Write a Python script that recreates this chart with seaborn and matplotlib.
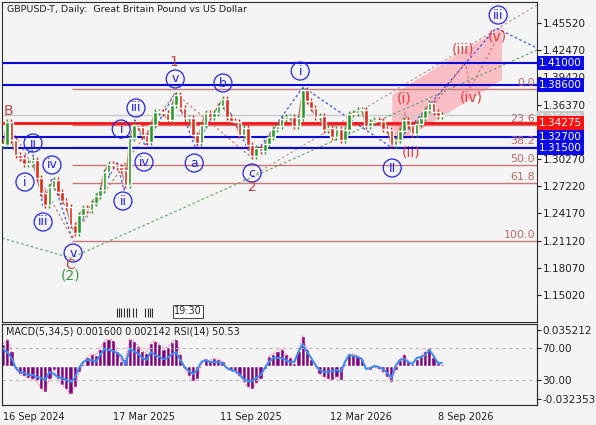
import matplotlib
matplotlib.use("Agg")
import matplotlib.pyplot as plt
import matplotlib.transforms as mtransforms
from matplotlib.patches import Polygon
import seaborn as sns
import pandas as pd
import numpy as np

sns.set_style("white")
plt.rcParams["font.family"] = ["DejaVu Sans"]

# weekly closes, GBPUSD, starting 16 Sep 2024
closes = [1.3184, 1.3442, 1.3240, 1.3072, 1.3038, 1.2971, 1.2982, 1.3016, 1.2814, 1.2646,
          1.2511, 1.2713, 1.2792, 1.2657, 1.2556, 1.2489, 1.2287, 1.2197, 1.2399, 1.2478,
          1.2455, 1.2534, 1.2612, 1.2680, 1.2881, 1.2971, 1.2960, 1.2937, 1.2904, 1.2736,
          1.3262, 1.3408, 1.3386, 1.3296, 1.3218, 1.3408, 1.3554, 1.3554, 1.3543, 1.3464,
          1.3632, 1.3745, 1.3599, 1.3487, 1.3487, 1.3296, 1.3206, 1.3408, 1.3543, 1.3498,
          1.3543, 1.3621, 1.3700, 1.3498, 1.3453, 1.3442, 1.3296, 1.3375, 1.3184, 1.3061,
          1.3150, 1.3117, 1.3195, 1.3274, 1.3364, 1.3397, 1.3475, 1.3498, 1.3498, 1.3397,
          1.3487, 1.3800, 1.3677, 1.3599, 1.3498, 1.3509, 1.3352, 1.3375, 1.3274, 1.3364,
          1.3240, 1.3352, 1.3531, 1.3543, 1.3576, 1.3576, 1.3397, 1.3442, 1.3464, 1.3453,
          1.3364, 1.3352, 1.3184, 1.3240, 1.3341, 1.3464, 1.3408, 1.3307, 1.3420, 1.3487,
          1.3576, 1.3655, 1.3554, 1.3509, 1.3520]

macd_hist = [0.0215, 0.0264, 0.0147, -0.0029, -0.0078, -0.0098, -0.0117, -0.0127, -0.0147, -0.0225,
             -0.0255, -0.0127, -0.0039, -0.0127, -0.0186, -0.0225, -0.0274, -0.0206, -0.0059, 0.0020,
             0.0088, 0.0117, 0.0108, 0.0166, 0.0245, 0.0264, 0.0255, 0.0147, 0.0049, 0.0069,
             0.0264, 0.0245, 0.0196, 0.0147, 0.0127, 0.0225, 0.0245, 0.0215, 0.0166, 0.0186,
             0.0235, 0.0264, 0.0117, -0.0020, -0.0098, -0.0147, -0.0127, 0.0010, 0.0069, 0.0049,
             0.0078, 0.0069, 0.0049, -0.0020, -0.0049, -0.0059, -0.0098, -0.0157, -0.0206, -0.0225,
             -0.0166, -0.0127, -0.0029, 0.0098, 0.0117, 0.0147, 0.0166, 0.0117, 0.0088, 0.0029,
             0.0147, 0.0294, 0.0166, 0.0069, 0.0000, -0.0078, -0.0108, -0.0127, -0.0137, -0.0108,
             -0.0137, 0.0020, 0.0117, 0.0117, 0.0098, 0.0069, -0.0010, -0.0039, -0.0010, -0.0029,
             -0.0059, -0.0108, -0.0157, -0.0039, 0.0059, 0.0117, 0.0049, 0.0020, 0.0069, 0.0098,
             0.0147, 0.0176, 0.0088, 0.0029, 0.0020]

rsi = [67.5, 65.0, 57.5, 45.0, 40.0, 38.8, 36.3, 36.3, 33.8, 32.5,
       30.0, 40.0, 37.5, 33.8, 32.5, 30.0, 27.5, 32.5, 45.0, 52.5,
       55.0, 55.0, 52.5, 61.3, 68.8, 67.5, 66.3, 63.8, 60.0, 48.8,
       68.8, 66.3, 62.5, 57.5, 55.0, 65.0, 61.3, 58.8, 56.3, 57.5,
       62.5, 65.0, 55.0, 46.3, 41.3, 37.5, 42.5, 52.5, 55.0, 52.5,
       52.5, 52.5, 51.3, 45.0, 42.5, 41.3, 37.5, 31.3, 28.8, 28.8,
       32.5, 36.3, 45.0, 52.5, 57.5, 57.5, 57.5, 55.0, 52.5, 52.5,
       65.0, 75.0, 65.0, 57.5, 48.8, 42.5, 40.0, 40.0, 41.3, 42.5,
       40.0, 52.5, 61.3, 60.0, 58.8, 56.3, 43.8, 45.0, 47.5, 46.3,
       43.8, 38.8, 32.5, 47.5, 55.0, 56.3, 52.5, 50.0, 57.5, 58.8,
       61.3, 67.5, 60.0, 51.3, 51.3]

price_ticks = [1.45520, 1.42470, 1.39420, 1.36370, 1.33320, 1.30270,
               1.27220, 1.24170, 1.21120, 1.18070, 1.15020]
blue_levels = [1.41000, 1.38600, 1.32700, 1.31500]
red_level = 1.34275
last_price = 1.35200
fib_names = ["0.0", "23.6", "38.2", "50.0", "61.8", "100.0"]
fib_pcts = [0.0, 23.6, 38.2, 50.0, 61.8, 100.0]
fib_high, fib_low = 1.3810, 1.2112
date_labels = ["16 Sep 2024", "17 Mar 2025", "11 Sep 2025", "12 Mar 2026", "8 Sep 2026"]

start = pd.Timestamp("2024-09-16")
weeks = np.arange(len(closes))
opens = [closes[0]] + closes[:-1]

BG = "#f4f4f4"
BLUE = "#2424dc"
BROWN = "#b84848"
RED = "#e83a3a"

fig = plt.figure(figsize=(5.96, 4.25), dpi=100, facecolor=BG)
ax = fig.add_axes([2 / 596, 1 - 322 / 425, 535 / 596, 320 / 425], facecolor=BG)
axm = fig.add_axes([2 / 596, 1 - 405 / 425, 535 / 596, 81 / 425], facecolor=BG)

x_lo, x_hi = -0.24, 126.5
ax.set_xlim(x_lo, x_hi)
ax.set_ylim(1.1200, 1.4787)

# pink projection band
band = Polygon([(92.2, 1.3744), (118.2, 1.4507), (118.2, 1.3913), (92.2, 1.3162)],
               closed=True, fc="#f9b7c0", ec="none", alpha=0.9, zorder=1)
ax.add_patch(band)

# horizontal levels
ax.axhline(last_price, color="#c8c8c8", lw=1, zorder=2)
for lv in blue_levels:
    ax.axhline(lv, color="#0a0ad0", lw=1.5, zorder=3)
ax.axhline(red_level, color="#ff1010", lw=2, zorder=3)
for name, pct in zip(fib_names, fib_pcts):
    lv = fib_high - pct / 100 * (fib_high - fib_low)
    ax.hlines(lv, 16.35, x_hi, color="#c87878", lw=1, zorder=2)
    ax.text(x_hi - 0.4, lv + 0.0008, name, color="#b86a6a", fontsize=8,
            ha="right", va="bottom", zorder=4)

# dotted wave lines
def dotted(pts, color, lw=0.9):
    xs, ys = zip(*pts)
    sns.lineplot(x=list(xs), y=list(ys), ax=ax, color=color, lw=lw,
                 linestyle=(0, (2, 2)), sort=False, zorder=2)

dotted([(-0.24, 1.2141), (16.1, 1.1917), (126.5, 1.4249)], "#6aa86a")
dotted([(59.0, 1.2836), (126.5, 1.4753)], "#c49a9a")
dotted([(1.18, 1.3442), (4.03, 1.3016), (6.87, 1.3128), (9.48, 1.2489),
        (11.61, 1.2814), (16.35, 1.2141)], "#3b4fe0")
dotted([(1.18, 1.3442), (16.35, 1.2141)], "#c08070")
dotted([(16.35, 1.2141), (27.0, 1.2982), (28.67, 1.2680), (31.28, 1.3464),
        (33.65, 1.3173), (40.76, 1.3767)], "#3b4fe0")
dotted([(16.35, 1.2141), (40.76, 1.3767)], "#c08070")
dotted([(40.76, 1.3767), (45.5, 1.3162), (52.13, 1.3711), (59.0, 1.3038)], "#3b4fe0")
dotted([(40.76, 1.3767), (59.0, 1.3038)], "#c08070")
dotted([(59.0, 1.3038), (71.1, 1.3834), (92.2, 1.3150), (116.8, 1.4495),
        (126.5, 1.4271)], "#3b4fe0")
dotted([(92.2, 1.3150), (95.3, 1.3543), (96.9, 1.3296), (109.5, 1.4114),
        (110.7, 1.3823), (117.1, 1.4383)], "#e07070")

# candles (open = previous close), wicks padded a little for a daily-bar look
up = [c >= o for o, c in zip(opens, closes)]
colors = ["#2a9a2a" if u else "#e02a1a" for u in up]
lo = [min(o, c) for o, c in zip(opens, closes)]
hi = [max(o, c) for o, c in zip(opens, closes)]
ax.plot(weeks, closes, color="#a8602a", lw=1.0, alpha=0.8, zorder=4)
ax.vlines(weeks, [v - 0.0035 for v in lo], [v + 0.0035 for v in hi],
          colors=colors, lw=1.0, zorder=5)
ax.bar(weeks, [max(h - l, 0.0015) for l, h in zip(lo, hi)], bottom=lo,
       width=0.85, color=colors, zorder=5)

# wave labels
circ = [("ii", 7.1, 1.3206), ("i", 5.2, 1.2769), ("iv", 11.6, 1.2960), ("iii", 9.5, 1.2321),
        ("v", 16.6, 1.1973), ("i", 28.0, 1.3363), ("iii", 31.5, 1.3599), ("iv", 33.4, 1.2993),
        ("ii", 28.4, 1.2556), ("v", 40.8, 1.3924), ("b", 52.1, 1.3879), ("a", 45.3, 1.2982),
        ("c", 59.0, 1.2870), ("i", 70.4, 1.4013), ("II", 92.2, 1.2926), ("iii", 117.3, 1.4641)]
for t, k, p in circ:
    ax.text(k, p, t, color=BLUE, fontsize=9, ha="center", va="center", zorder=6,
            bbox=dict(boxstyle="circle,pad=0.2", fc="none", ec=BLUE, lw=0.9))
for t, k, p in [("B", 1.4, 1.3565), ("1", 40.5, 1.4114), ("2", 59.0, 1.2713), ("C", 15.9, 1.1839)]:
    ax.text(k, p, t, color=BROWN, fontsize=10, ha="center", va="center", zorder=6)
ax.text(15.9, 1.1720, "(2)", color="#3a9a3a", fontsize=10, ha="center", va="center", zorder=6)
for t, k, p in [("(i)", 95.0, 1.3700), ("(ii)", 96.7, 1.3105), ("(iii)", 109.0, 1.4260),
                ("(iv)", 110.9, 1.3711), ("(v)", 117.1, 1.4395)]:
    ax.text(k, p, t, color=RED, fontsize=10, ha="center", va="center", zorder=6)

# title and session marks
ax.text(0.009, 0.975, "GBPUSD-T, Daily:  Great Britain Pound vs US Dollar",
        transform=ax.transAxes, fontsize=6.8, ha="left", va="center", color="#202020")
trans = mtransforms.blended_transform_factory(ax.transData, ax.transAxes)
for k in [27.0, 27.5, 28.0, 28.7, 29.4, 29.9, 30.8, 31.5, 33.6, 34.4, 34.8, 35.3]:
    ax.vlines(k, 0.016, 0.044, transform=trans, color="#303030", lw=0.8)
ax.text(40.5, 0.034, "19:30", transform=trans, fontsize=7, ha="left", va="center",
        bbox=dict(boxstyle="square,pad=0.15", fc="white", ec="#404040", lw=0.7))

# price axis
ax.yaxis.tick_right()
ax.set_yticks(price_ticks)
ax.set_yticklabels(["" if v == 1.33320 else f"{v:.5f}" for v in price_ticks])
ax.tick_params(axis="y", length=3, width=0.8, labelsize=7.5, pad=1, colors="#202020")
ax.set_xticks([])
for s in ax.spines.values():
    s.set_color("#303030")
    s.set_linewidth(0.8)

ytr = mtransforms.blended_transform_factory(ax.transAxes, ax.transData)
def price_box(v, fc, dy=0.0):
    ax.text(1.004, v + dy, f"{v:.5f}", transform=ytr, color="white", fontsize=7.5,
            ha="left", va="center", clip_on=False, zorder=10,
            bbox=dict(boxstyle="square,pad=0.18", fc=fc, ec="none"))

price_box(last_price, "#c8c8c8", dy=-0.003)
for lv in blue_levels:
    price_box(lv, "#0a0ae6")
price_box(red_level, "#ff1010")

# MACD / RSI panel
axm.set_xlim(x_lo, x_hi)
axm.set_ylim(-0.03823, 0.04109)
axm.bar(weeks, macd_hist, width=1.0, color="#800080", zorder=2)
axm.plot(weeks, macd_hist, color="#ff3070", lw=0.7, linestyle=(0, (1, 1.5)), zorder=3)

axr = axm.twinx()
axr.set_ylim(-1.25, 100)
axr.axhline(70, color="#b8b8b8", lw=0.8, linestyle=(0, (3, 3)), zorder=1)
axr.axhline(30, color="#b8b8b8", lw=0.8, linestyle=(0, (3, 3)), zorder=1)
sns.lineplot(x=weeks, y=rsi, ax=axr, color="#3a8ef0", lw=1.5)
axr.set_ylabel("")
axr.set_yticks([70, 30])
axr.set_yticklabels(["70.00", "30.00"])
axr.tick_params(axis="y", length=3, width=0.8, labelsize=7.5, pad=1, colors="#202020")

axm.yaxis.tick_right()
axm.set_yticks([0.035212, -0.032353])
axm.set_yticklabels(["0.035212", "-0.032353"])
axm.tick_params(axis="y", length=3, width=0.8, labelsize=7.5, pad=1, colors="#202020")

date_pos = [(pd.Timestamp(d) - start).days / 7 for d in date_labels]
axm.set_xticks(date_pos)
axm.set_xticklabels(date_labels, ha="left")
axm.tick_params(axis="x", length=4, width=0.8, labelsize=7, pad=1, colors="#202020")
for s in list(axm.spines.values()) + list(axr.spines.values()):
    s.set_color("#303030")
    s.set_linewidth(0.8)
axm.text(0.007, 0.91, "MACD(5,34,5) 0.001600 0.002142 RSI(14) 50.53",
         transform=axm.transAxes, fontsize=6.9, ha="left", va="center", color="#202020")

fig.savefig("out.png", dpi=100, facecolor=BG)
